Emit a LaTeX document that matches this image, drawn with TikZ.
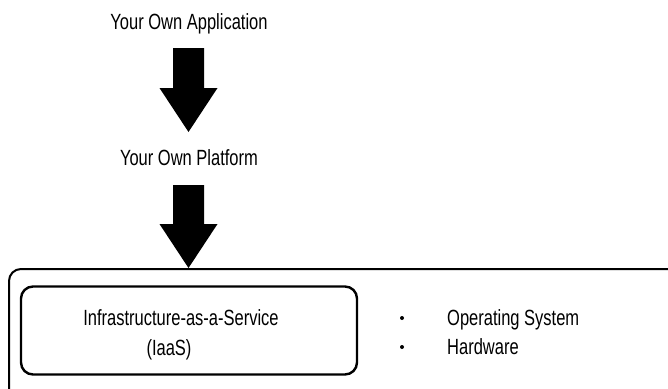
\documentclass[tikz,border=0pt]{standalone}
\usepackage{fontspec}
\setmainfont[FakeStretch=0.75]{Liberation Sans}
\usetikzlibrary{calc}
% block arrow from #1 (top of shaft) down to #2 (tip)
\newcommand{\stackarrow}[2]{%
  \fill[bigarrow] ($(#1)+(-15.5,0)$) -- ($(#1)+(15.5,0)$)
    -- ($(#2)+(15.5,-44)$) -- ($(#2)+(29,-44)$) -- (#2)
    -- ($(#2)+(-29,-44)$) -- ($(#2)+(-15.5,-44)$) -- cycle;}
\begin{document}
\begin{tikzpicture}[x=1pt,y=-1pt,
  label/.style={inner sep=0pt,anchor=base,font=\fontsize{22}{26}\selectfont},
  itemtext/.style={inner sep=0pt,anchor=base west,font=\fontsize{22}{26}\selectfont},
  bigarrow/.style={fill=black,draw=none},
  outerbox/.style={draw=black,line width=2pt,rounded corners=12pt},
  innerbox/.style={draw=black,line width=2.4pt,rounded corners=12pt}]
  \useasboundingbox (0,0) rectangle (668,388);
  \clip (0,0) rectangle (668,388);

  % labels of the stack
  \node[label] (app) at (189,29.5) {Your Own Application};
  \node[label] (plat) at (189,165.5) {Your Own Platform};

  % down arrows between the layers
  \coordinate (a1top) at (188.5,48);
  \coordinate (a1tip) at (188.5,132);
  \coordinate (a2top) at (188.5,185);
  \coordinate (a2tip) at (188.5,268);
  \stackarrow{a1top}{a1tip}
  \stackarrow{a2top}{a2tip}

  % service layer
  \draw[outerbox] (9,269) rectangle (720,430);
  \node[innerbox,minimum width=336pt,minimum height=88pt] (iaas) at (189,330.5) {};
  \node[label] (iaas1) at (181,325.5) {Infrastructure-as-a-Service};
  \node[label] (iaas2) at (169,355) {(IaaS)};

  % bullet list
  \fill (402,318) circle (2pt);
  \fill (402,347) circle (2pt);
  \node[itemtext] (os) at (447,325.5) {Operating System};
  \node[itemtext] (hw) at (447,354.5) {Hardware};
\end{tikzpicture}
\end{document}
